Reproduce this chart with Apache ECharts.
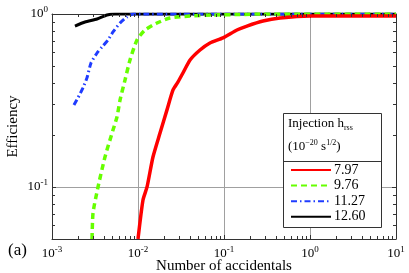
<!DOCTYPE html>
<html><head><meta charset="utf-8">
<script src="https://cdn.jsdelivr.net/npm/echarts@6/dist/echarts.min.js"></script>
<style>html,body{margin:0;padding:0;background:#fff}#c{width:409px;height:273px}</style>
</head><body><div id="c"></div>
<script>
// ---- data ----
const xRange = [0.001, 10];
const yRange = [0.05, 1];
const seriesNames = ['7.97', '9.76', '11.27', '12.60'];
const redX = [0.01, 0.01143, 0.01274, 0.01493, 0.01803, 0.02173, 0.02553, 0.0292, 0.0333, 0.0403, 0.0526, 0.0687, 0.0973, 0.1416, 0.185, 0.284, 0.448, 1.0, 10];
const redY = [0.05, 0.0841, 0.1, 0.149, 0.205, 0.279, 0.364, 0.405, 0.456, 0.542, 0.619, 0.680, 0.727, 0.808, 0.852, 0.911, 0.948, 0.974, 0.975];
const greenX = [0.00292, 0.0030, 0.00343, 0.00413, 0.00512, 0.0057, 0.00618, 0.00706, 0.00807, 0.00973, 0.01205, 0.01664, 0.02355, 0.0403, 0.0745, 0.1535, 0.26, 10];
const greenY = [0.05, 0.0708, 0.1, 0.149, 0.2135, 0.254, 0.318, 0.415, 0.542, 0.708, 0.808, 0.887, 0.948, 0.974, 0.987, 0.993, 1.0, 1.0];
const blueX = [0.0018, 0.0020, 0.00229, 0.00255, 0.00284, 0.00334, 0.00381, 0.00448, 0.00512, 0.00618, 0.00745, 0.00875, 10];
const blueY = [0.298, 0.327, 0.374, 0.427, 0.521, 0.595, 0.645, 0.708, 0.787, 0.887, 0.961, 1.0, 1.0];
const blackX = [0.00185, 0.00242, 0.00334, 0.00436, 0.0054, 10];
const blackY = [0.852, 0.899, 0.936, 0.987, 1.0, 1.0];
const xMinor = [0.002,0.003,0.004,0.005,0.006,0.007,0.008,0.009,
                0.02,0.03,0.04,0.05,0.06,0.07,0.08,0.09,
                0.2,0.3,0.4,0.5,0.6,0.7,0.8,0.9,
                2,3,4,5,6,7,8,9];
const yMinor = [0.06,0.07,0.08,0.09,0.2,0.3,0.4,0.5,0.6,0.7,0.8,0.9];

const FONT = "'Liberation Serif','Times New Roman',serif";
const zip = (a, b) => a.map((v, i) => [v, b[i]]);

function powLabel(v) {
  const e = Math.round(Math.log10(v));
  if (Math.abs(Math.log10(v) - e) > 0.01) return '';
  return '{b|10}{s|' + e + '}';
}
const richPow = {
  b: {fontFamily: FONT, fontSize: 13, color: '#000', lineHeight: 18},
  s: {fontFamily: FONT, fontSize: 9, color: '#000', lineHeight: 18, padding: [0, 0, 9, 0]}
};

const chart = echarts.init(document.getElementById('c'), null, {renderer: 'canvas'});
const axisLineStyle = {show: true, lineStyle: {color: '#333', width: 1}};
const option = {
  animation: false,
  backgroundColor: '#fff',
  grid: {left: 52, top: 14, right: 13, bottom: 34, containLabel: false, outerBoundsMode: 'none'},
  xAxis: [{
    type: 'log', logBase: 10, min: xRange[0], max: xRange[1], position: 'bottom',
    axisLine: axisLineStyle,
    axisTick: {show: true, inside: true, length: 4, lineStyle: {color: '#333'}},
    splitLine: {show: true, lineStyle: {color: '#a0a0a0', width: 1}},
    axisLabel: {formatter: powLabel, rich: richPow, margin: 6},
    name: 'Number of accidentals', nameLocation: 'middle', nameGap: 20, nameMoveOverlap: false,
    nameTextStyle: {fontFamily: FONT, fontSize: 15, color: '#000'}
  }, {
    type: 'log', logBase: 10, min: xRange[0], max: xRange[1], position: 'top',
    axisLine: axisLineStyle,
    axisTick: {show: true, inside: true, length: 4, lineStyle: {color: '#333'}},
    splitLine: {show: false}, axisLabel: {show: false}
  }],
  yAxis: [{
    type: 'log', logBase: 10, min: yRange[0], max: yRange[1], position: 'left',
    axisLine: axisLineStyle,
    axisTick: {show: true, inside: true, length: 4, lineStyle: {color: '#333'}},
    splitLine: {show: true, lineStyle: {color: '#a0a0a0', width: 1}},
    axisLabel: {formatter: powLabel, rich: richPow, margin: 4},
    name: 'Efficiency', nameLocation: 'middle', nameGap: 31, nameRotate: 90, nameMoveOverlap: false,
    nameTextStyle: {fontFamily: FONT, fontSize: 15, color: '#000'}
  }, {
    type: 'log', logBase: 10, min: yRange[0], max: yRange[1], position: 'right',
    axisLine: axisLineStyle,
    axisTick: {show: true, inside: true, length: 4, lineStyle: {color: '#333'}},
    splitLine: {show: false}, axisLabel: {show: false}
  }],
  legend: {
    data: seriesNames, orient: 'vertical', left: 290, top: 163, z: 30,
    itemWidth: 40, itemHeight: 14, itemGap: 1.6,
    itemStyle: {opacity: 0},
    textStyle: {fontFamily: FONT, fontSize: 14, color: '#000', padding: [0, 0, 0, -2]},
    backgroundColor: 'transparent', padding: 0
  },
  graphic: [
    {type: 'rect', z: 25, shape: {x: 283.5, y: 113.5, width: 98, height: 114},
     style: {fill: '#fff', stroke: '#333', lineWidth: 1}},
    {type: 'line', z: 26, shape: {x1: 283.5, y1: 161.5, x2: 381.5, y2: 161.5},
     style: {stroke: '#333', lineWidth: 1}},
    {type: 'text', z: 27, left: 288, top: 116,
     style: {text: '{a|Injection h}{u|rss}', rich: {
       a: {fontFamily: FONT, fontSize: 13, color: '#000', lineHeight: 18},
       u: {fontFamily: FONT, fontSize: 8, color: '#000', lineHeight: 18, padding: [8, 0, 0, 0]}}}},
    {type: 'text', z: 27, left: 288, top: 139,
     style: {text: '{a|(10}{u|−20}{a| s}{u|1/2}{a|)}', rich: {
       a: {fontFamily: FONT, fontSize: 13, color: '#000', lineHeight: 18},
       u: {fontFamily: FONT, fontSize: 8, color: '#000', lineHeight: 18, padding: [0, 0, 8, 0]}}}},
    {type: 'text', z: 27, left: 8, top: 242,
     style: {text: '(a)', font: '17px ' + FONT, fill: '#000'}}
  ],
  series: [
    {name: '12.60', type: 'line', data: zip(blackX, blackY), showSymbol: false, symbol: 'none', z: 3, smooth: 0.2,
     lineStyle: {color: '#000', width: 3}, itemStyle: {color: '#000'}},
    {name: '11.27', type: 'line', data: zip(blueX, blueY), showSymbol: false, symbol: 'none', z: 4, smooth: 0.2,
     lineStyle: {color: '#1f3cff', width: 3, type: [6, 3, 1.5, 3]}, itemStyle: {color: '#1f3cff'}},
    {name: '9.76', type: 'line', data: zip(greenX, greenY), showSymbol: false, symbol: 'none', z: 5, smooth: 0.2,
     lineStyle: {color: '#66ff00', width: 3.5, type: [6, 4]}, itemStyle: {color: '#66ff00'}},
    {name: '7.97', type: 'line', data: zip(redX, redY), showSymbol: false, symbol: 'none', z: 6, smooth: 0.2,
     lineStyle: {color: '#ff0000', width: 3.5}, itemStyle: {color: '#ff0000'}},
    {type: 'custom', silent: true, z: 8, data: [[0.01, 0.5]], clip: false,
     renderItem: function (params, api) {
       const ch = [], L = 3, st = {stroke: '#333', lineWidth: 1};
       xMinor.forEach(v => {
         const b = api.coord([v, yRange[0]]), t = api.coord([v, yRange[1]]);
         const x = Math.round(b[0]) + 0.5;
         ch.push({type: 'line', shape: {x1: x, y1: b[1], x2: x, y2: b[1] - L}, style: st});
         ch.push({type: 'line', shape: {x1: x, y1: t[1], x2: x, y2: t[1] + L}, style: st});
       });
       yMinor.forEach(v => {
         const l = api.coord([xRange[0], v]), r = api.coord([xRange[1], v]);
         const y = Math.round(l[1]) + 0.5;
         ch.push({type: 'line', shape: {x1: l[0], y1: y, x2: l[0] + L, y2: y}, style: st});
         ch.push({type: 'line', shape: {x1: r[0], y1: y, x2: r[0] - L, y2: y}, style: st});
       });
       return {type: 'group', children: ch};
     }}
  ]
};
chart.setOption(option);
</script>
</body></html>
